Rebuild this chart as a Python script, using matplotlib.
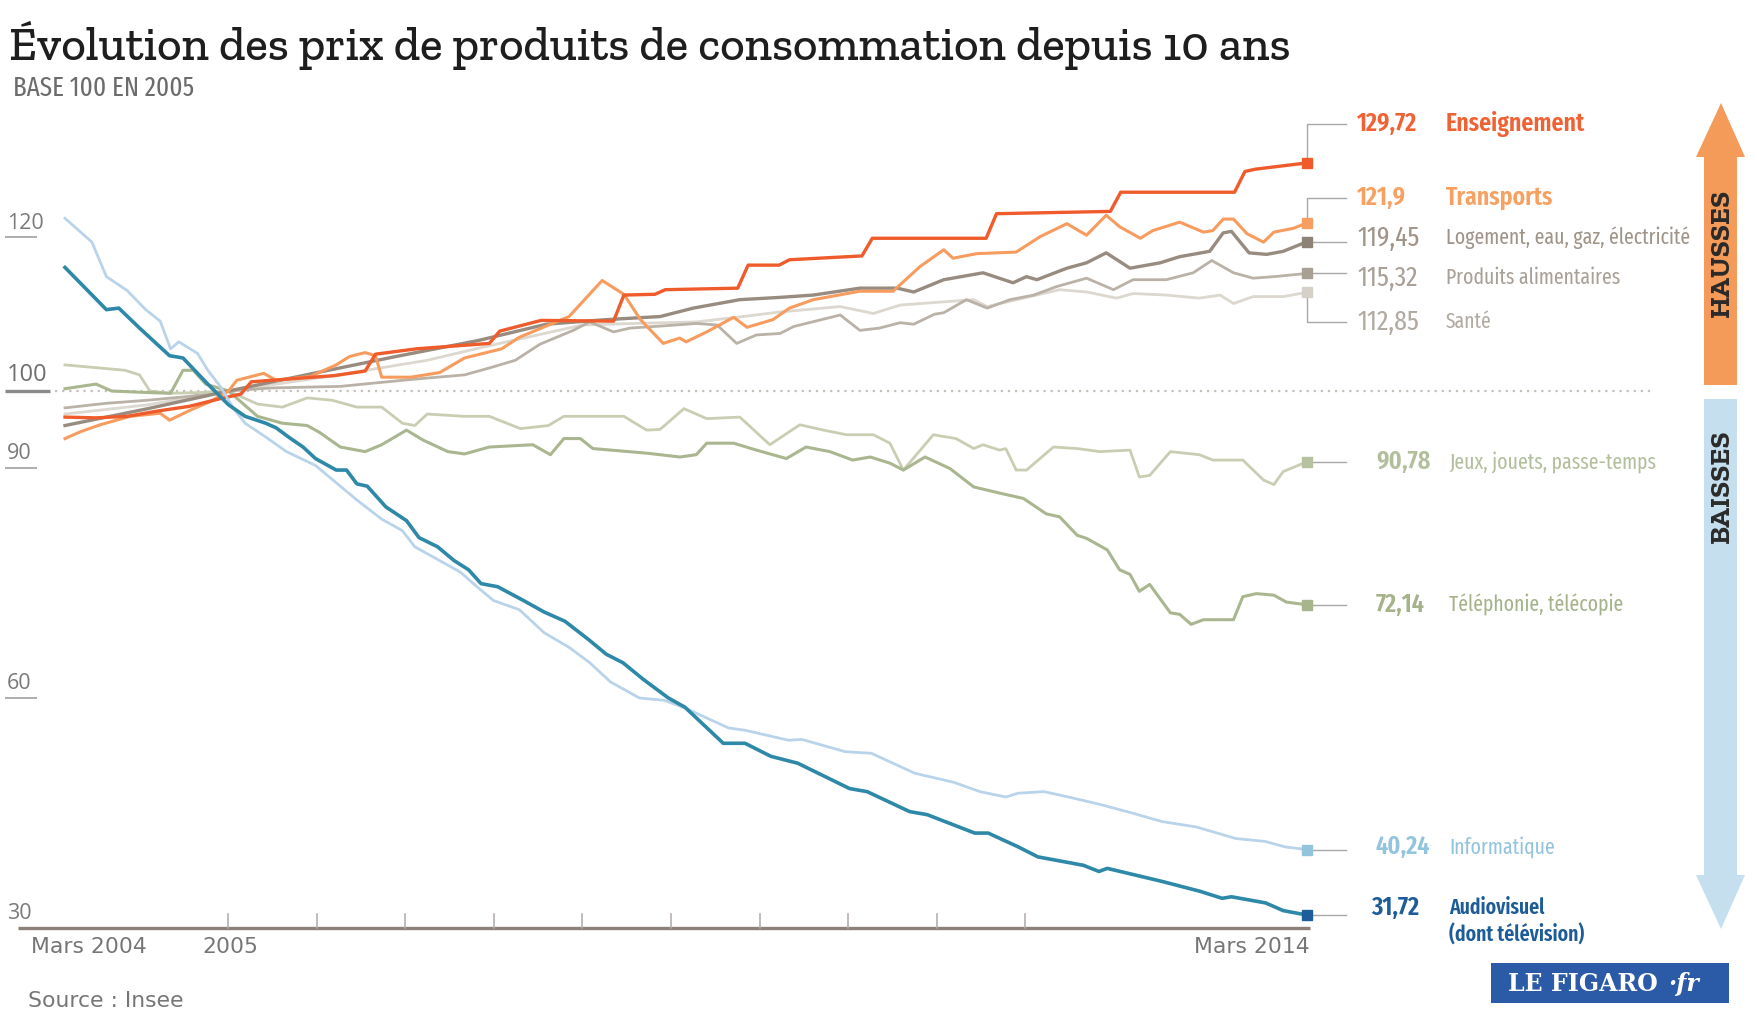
import matplotlib
matplotlib.use('Agg')
import matplotlib.pyplot as plt
from matplotlib.patches import Polygon, Rectangle
from matplotlib import font_manager

# x = months since March 2004 (0) to March 2014 (120), y = index base 100 in 2005
ens_m = [0, 3, 6, 9, 12, 15, 17, 18, 22, 26, 29, 30, 34, 38, 41, 42, 46, 53, 54, 57, 58, 65, 66, 69, 70,
         77, 78, 89, 90, 101, 102, 113, 114, 115, 120]
ens_v = [96.6, 96.5, 96.7, 97.4, 98.0, 99.0, 99.6, 101.2, 101.6, 102.0, 102.6, 104.8, 105.5, 105.9, 106.2,
         107.8, 109.2, 109.1, 112.5, 112.6, 113.2, 113.4, 116.4, 116.4, 117.1, 117.6, 119.9, 119.9, 123.1,
         123.4, 125.9, 125.9, 128.6, 128.9, 129.72]

trans_m = [0, 1.5, 3.4, 6.3, 9.2, 10.1, 12.1, 14, 15.8, 16.6, 19.2, 20.4, 23.7, 26.2, 27.5, 29, 30, 30.6,
           33.4, 36.2, 38.6, 42.2, 43.9, 48.7, 51.9, 54, 55.6, 57.8, 59.4, 60, 62, 64.6, 65.9, 68.4, 70,
           72.3, 76.8, 80, 82.6, 84.9, 85.8, 88.1, 91.9, 94.2, 96.8, 98.7, 100.6, 101.9, 103.9, 105.1,
           107.7, 110, 110.9, 111.9, 112.9, 114.2, 115.8, 116.8, 118.7, 120]
trans_v = [93.8, 94.7, 95.6, 96.7, 97.1, 96.2, 97.5, 98.6, 100.0, 101.4, 102.3, 101.4, 101.9, 103.4, 104.5,
           105.0, 104.6, 101.8, 101.8, 102.4, 104.3, 105.5, 107.0, 109.7, 114.4, 112.6, 109.3, 106.2, 106.9,
           106.4, 107.7, 109.6, 108.3, 109.3, 110.8, 111.9, 113.0, 113.0, 116.2, 118.4, 117.3, 117.9, 118.1,
           120.1, 121.8, 120.3, 122.9, 121.4, 119.9, 120.9, 122.0, 120.7, 120.9, 122.4, 122.4, 120.5, 119.4,
           120.7, 121.2, 121.9]

log_m = [0, 8, 15.8, 24, 32, 40, 46.5, 52.3, 57.5, 60.7, 65.2, 69.1, 72.3, 76.8, 80.4, 82, 84.9, 88.7,
         91.6, 92.9, 93.9, 96.8, 98.7, 100.6, 102.9, 105.8, 107.7, 110.6, 111.9, 112.7, 114.4, 116.1, 117.7, 120]
log_v = [95.5, 97.7, 100.0, 102.3, 104.5, 106.6, 108.7, 109.3, 109.7, 110.8, 111.9, 112.2, 112.5, 113.4,
         113.4, 112.9, 114.5, 115.4, 114.1, 114.9, 114.5, 116.0, 116.7, 118.0, 116.0, 116.7, 117.5, 118.2,
         120.6, 120.8, 118.0, 117.8, 118.2, 119.45]

prod_m = [0, 4, 8, 12, 15.8, 20, 26.6, 33.4, 38.6, 41, 43.5, 45.9, 49.1, 50.7, 53, 54.6, 58, 61, 63, 64.9,
          66.8, 69.1, 70.4, 74.9, 76.8, 78.7, 80.7, 82, 84, 84.9, 87.1, 89.1, 91.3, 93.6, 95.8, 98.7, 101.3,
          103.2, 106.4, 109, 110.8, 112.9, 114.8, 116.8, 120]
prod_v = [97.8, 98.4, 98.8, 99.3, 100.0, 100.4, 100.6, 101.5, 102.1, 103.0, 104.0, 106.1, 107.9, 109.0,
          107.7, 108.2, 108.5, 108.8, 108.6, 106.2, 107.3, 107.5, 108.4, 109.9, 107.9, 108.2, 108.9, 108.7,
          110.0, 110.2, 111.9, 110.8, 111.9, 112.5, 113.6, 114.7, 113.2, 114.5, 114.5, 115.4, 117.0, 115.4,
          114.7, 114.9, 115.32]

sante_m = [0, 8, 15.8, 25, 35, 40, 50, 55, 61, 65.5, 69.1, 74.9, 78.1, 80.7, 87.8, 89.1, 96.1, 98.7, 101.6,
           103.2, 106.4, 109.6, 111.6, 112.9, 114.8, 117.7, 120]
sante_v = [97.0, 98.2, 100.0, 101.8, 104.0, 105.6, 108.6, 108.8, 109.0, 109.7, 110.3, 111.0, 110.1, 111.2,
           111.9, 111.0, 113.2, 112.9, 112.1, 112.7, 112.5, 112.1, 112.5, 111.4, 112.3, 112.3, 112.85]

jeux_m = [0, 5.8, 7.2, 8.2, 10.2, 13, 15.8, 18.6, 21, 23.4, 25.8, 28.2, 30.6, 32.6, 33.8, 35, 38.6, 41, 44,
          46.7, 48.2, 54, 56.2, 57.5, 59.8, 62, 65.2, 68.1, 71, 73.3, 75.5, 78.1, 79.7, 81, 83.9, 86.1, 87.8,
          88.7, 90.3, 90.9, 91.9, 92.9, 95.5, 97.8, 100, 102.9, 103.8, 104.8, 106.8, 109.6, 110.9, 113.8,
          115.8, 116.8, 117.7, 120]
jeux_v = [103.4, 102.7, 102.1, 100.0, 99.7, 99.8, 100.0, 98.3, 97.9, 99.1, 98.8, 97.9, 97.9, 95.8, 95.5,
          97.0, 96.7, 96.7, 95.1, 95.5, 96.7, 96.7, 94.9, 95.0, 97.7, 96.4, 96.6, 93.0, 95.6, 94.9, 94.3,
          94.3, 93.2, 89.7, 94.3, 93.8, 92.5, 93.0, 92.3, 92.5, 89.7, 89.7, 92.7, 92.5, 92.1, 92.3, 88.8,
          89.0, 92.1, 91.7, 91.0, 91.0, 88.4, 87.8, 89.5, 90.78]

tel_m = [0, 3, 4.5, 8, 10.2, 11.4, 12.4, 13.6, 15.8, 18.6, 21, 23.4, 24.6, 26.6, 29, 30.6, 33, 34.6, 37,
         38.6, 41, 45.2, 46.9, 48.2, 49.8, 51, 56.2, 59.4, 61, 62, 64.6, 66.8, 69.7, 71.6, 73.9, 76.1, 77.8,
         79.7, 81, 83.1, 85.5, 87.8, 90.3, 92.6, 94.8, 96.1, 97.8, 98.7, 100.7, 101.9, 102.9, 103.8, 104.8,
         106.8, 107.7, 108.8, 110, 112.9, 113.8, 115.1, 116.8, 118, 120]
tel_v = [100.3, 100.9, 100.0, 99.8, 99.7, 102.7, 102.7, 100.9, 100.0, 96.7, 95.8, 95.5, 94.6, 92.7, 92.1,
         93.0, 94.9, 93.6, 92.1, 91.8, 92.7, 93.0, 91.7, 93.8, 93.8, 92.5, 91.9, 91.4, 91.7, 93.2, 93.2,
         92.3, 91.2, 92.7, 92.1, 91.0, 91.4, 90.6, 89.7, 91.4, 89.9, 87.5, 86.7, 86.0, 84.0, 83.6, 81.2,
         80.8, 79.3, 76.7, 76.1, 73.9, 74.8, 71.1, 70.9, 69.6, 70.2, 70.2, 73.2, 73.6, 73.4, 72.5, 72.14]

info_m = [0, 2.6, 4, 6, 7.8, 9.2, 10.2, 11, 12.8, 13.8, 15, 16.2, 17.4, 19.4, 21.4, 24.2, 26.6, 28.2, 30.6,
          32.6, 33.8, 36.2, 38.2, 39.8, 41.4, 43.9, 46.3, 48.7, 50.7, 52.7, 55.5, 57.9, 59.9, 64.1, 65.7,
          69.9, 71.2, 75.4, 77.9, 82.1, 85.9, 88.4, 90.9, 92.1, 94.6, 97.6, 100.1, 102.6, 106, 109.3, 113.1,
          116, 117.9, 120]
info_v = [122.5, 119.4, 114.9, 113.1, 110.6, 109.1, 105.5, 106.4, 104.9, 102.7, 100.6, 97.9, 95.8, 94.0,
          92.1, 90.3, 87.6, 85.8, 83.3, 81.8, 79.7, 77.9, 76.4, 74.5, 72.7, 71.5, 68.5, 66.6, 64.6, 62.1,
          60.0, 59.7, 58.7, 56.1, 55.8, 54.5, 54.6, 53.0, 52.8, 50.2, 49.0, 47.8, 47.1, 47.6, 47.8, 46.9,
          46.1, 45.2, 43.9, 43.2, 41.7, 41.3, 40.6, 40.24]

audio_m = [0, 4, 5.2, 7.2, 10.1, 11.4, 13.8, 15.8, 17.4, 19.4, 20.4, 21.6, 23, 24.2, 26.2, 27.2, 28.2, 29.2,
           31, 33, 34.2, 36, 37.6, 39, 40.2, 41.8, 44.3, 46.3, 48.3, 50.6, 52.3, 53.9, 55.9, 58.3, 59.9, 63.6,
           65.7, 68.2, 70.8, 75.8, 77.5, 81.6, 83.3, 87.9, 89.2, 92.1, 94, 98.4, 99.9, 100.7, 106, 109.7,
           111.8, 112.7, 116, 117.7, 120]
audio_v = [116.1, 110.6, 110.8, 108.2, 104.6, 104.3, 100.9, 98.2, 96.7, 95.8, 95.2, 94.0, 92.7, 91.2, 89.7,
           89.7, 87.9, 87.6, 84.9, 83.1, 80.9, 79.7, 77.9, 76.7, 74.9, 74.5, 72.7, 71.2, 70.0, 67.6, 65.7,
           64.6, 62.4, 60.0, 58.8, 54.1, 54.1, 52.4, 51.5, 48.2, 47.8, 45.2, 44.8, 42.4, 42.4, 40.6, 39.3,
           38.2, 37.4, 37.8, 36.1, 34.8, 33.9, 34.1, 33.3, 32.3, 31.72]

y_ticks = [120, 100, 90, 60, 30]

# ---- pixel layout helpers (figure is 1757 x 1032 px, axes covers it all) ----
FIG_W, FIG_H = 1757, 1032
X0_PX, MONTH_PX = 65, 10.35
Y100_PX, UNIT_PX = 391, 7.675


def mx(px):
    return (px - X0_PX) / MONTH_PX


def vy(py):
    return 100 - (py - Y100_PX) / UNIT_PX


available = {f.name for f in font_manager.fontManager.ttflist}


def pick(*fams):
    for f in fams:
        if f in available:
            return f
    return 'DejaVu Sans'


COND = pick('Fira Sans Extra Condensed', 'Barlow Condensed', 'Roboto Condensed', 'Fira Sans Condensed',
            'Asap Condensed', 'Barlow Semi Condensed', 'Archivo Narrow')
SLAB = pick('Roboto Slab', 'Zilla Slab', 'Arvo', 'DejaVu Serif')
PLAIN = pick('DejaVu Sans')

fig = plt.figure(figsize=(FIG_W / 100, FIG_H / 100), dpi=100)
renderer = fig.canvas.get_renderer()


def fit_size(txt, target_px, **kw):
    t = fig.text(0, 0, txt, fontsize=10, **kw)
    w = t.get_window_extent(renderer).width
    t.remove()
    return 10 * target_px / w


LSIZE = min(fit_size('Logement, eau, gaz, électricité', 244, family=COND), 19.5)
BSIZE = min(fit_size('Enseignement', 140, family=COND, fontweight='semibold'), 22)
VSIZE = min(fit_size('119,45', 62, family=COND), 23)
VBSIZE = min(fit_size('90,78', 54, family=COND, fontweight='semibold'), 23)

ax = fig.add_axes([0, 0, 1, 1])
ax.set_xlim(mx(0), mx(FIG_W))
ax.set_ylim(vy(FIG_H), vy(0))
ax.axis('off')

# series: months, values, line colour, width, marker colour, label colour, name, label y(px), bold, connector
series = [
    (sante_m, sante_v, '#dcd7cf', 2.0, '#d6d1c8', '#b2aba2', 'Santé', 322, False, 'down'),
    (prod_m, prod_v, '#bab2a7', 2.0, '#a9a095', '#a9a097', 'Produits alimentaires', 278, False, 'flat'),
    (jeux_m, jeux_v, '#c9ceb3', 2.0, '#b6c19f', '#b3bf9c', 'Jeux, jouets, passe-temps', 462, False, 'flat'),
    (tel_m, tel_v, '#a9b68f', 2.2, '#a7b48c', '#a5b28a', 'Téléphonie, télécopie', 605, False, 'flat'),
    (log_m, log_v, '#988b7f', 2.4, '#8e8276', '#a09488', 'Logement, eau, gaz, électricité', 238, False, 'flat'),
    (trans_m, trans_v, '#f79b5e', 2.2, '#f79f62', '#f7a060', 'Transports', 198, True, 'up'),
    (ens_m, ens_v, '#ef5b2a', 2.4, '#ef5b2a', '#ef6234', 'Enseignement', 124, True, 'up'),
    (info_m, info_v, '#b9d4ea', 2.0, '#93c4dc', '#93c4de', 'Informatique', 847, False, 'flat'),
    (audio_m, audio_v, '#2e88a8', 2.6, '#1d5d99', '#1d5c98', 'Audiovisuel\n(dont télévision)', 908, True, 'flat'),
]

# reference line at 100 and baseline
ax.plot([mx(55), mx(1650)], [100, 100], color='#c4c0bb', lw=1.6, ls=(0, (1, 2.2)), zorder=1)
ax.plot([mx(18), mx(1310)], [30, 30], color='#8c8078', lw=2.4, solid_capstyle='butt', zorder=2)
for k in range(10):
    tx = mx(228 + 88.6 * k)
    ax.plot([tx, tx], [30, 31.8], color='#b0aaa5', lw=1.1, zorder=2)

# y labels with short underlines
for t in y_ticks:
    big = t == 100
    if t != 30:
        ax.plot([mx(5), mx(50 if big else 37)], [t, t], color='#8a8a8a' if big else '#a0a0a0',
                lw=2.4 if big else 1.2, solid_capstyle='butt', clip_on=False)
    ax.text(mx(7), t + (0.5 if t != 30 else 0.6), str(t), ha='left', va='bottom',
            fontsize=17 if big else 15.5, color='#6f6f6f' if big else '#7a7a7a', family='Open Sans')

for m, v, lc, lw, mc, tc, name, ly, bold, conn in series:
    ax.plot(m, v, color=lc, lw=lw, solid_joinstyle='round', zorder=3)
    ax.plot(m[-1], v[-1], marker='s', ms=6.5, color=mc, zorder=4)
    lv = vy(ly)
    xe = m[-1]
    gc = '#a8a8a8'
    if conn == 'flat':
        ax.plot([xe, mx(1346)], [v[-1], v[-1]], color=gc, lw=1.0, zorder=2)
    else:
        ax.plot([xe, xe, mx(1346)], [v[-1], lv, lv], color=gc, lw=1.0, zorder=2)
    upper = ly < 400
    vx = mx(1357) if upper else mx(1376 if not bold else 1371)
    nx = mx(1446) if upper else mx(1449)
    val_txt = str(v[-1]).replace('.', ',')
    vbold = bold or not upper
    ax.text(vx, lv, val_txt, ha='left', va='center', fontsize=VBSIZE if vbold else VSIZE, color=tc,
            fontweight='semibold' if vbold else 'normal', family=COND)
    lines = name.split('\n')
    nsize = BSIZE if (bold and upper) else LSIZE
    for i, part in enumerate(lines):
        ax.text(nx, vy(ly + 27 * i), part, ha='left', va='center', fontsize=nsize, color=tc,
                fontweight='semibold' if bold else 'normal', family=COND)

# x labels and source
AX_SIZE = fit_size('Mars 2004', 115, family=PLAIN)
ax.text(mx(31), vy(947), 'Mars 2004', ha='left', va='center', fontsize=AX_SIZE, color='#767676')
ax.text(mx(230), vy(947), '2005', ha='center', va='center', fontsize=AX_SIZE, color='#767676')
ax.text(mx(1310), vy(947), 'Mars 2014', ha='right', va='center', fontsize=AX_SIZE, color='#767676')
ax.text(mx(28), vy(1001), 'Source : Insee', ha='left', va='center', fontsize=AX_SIZE, color='#767676')

# title
title = 'Évolution des prix de produits de consommation depuis 10 ans'
fig.text(9 / FIG_W, 1 - 45 / FIG_H, title, ha='left', va='center',
         fontsize=fit_size(title, 1290, family=SLAB, fontweight='medium'), fontweight='medium',
         color='#1e1e1e', family=SLAB)
fig.text(13 / FIG_W, 1 - 88 / FIG_H, 'BASE 100 EN 2005', ha='left', va='center',
         fontsize=fit_size('BASE 100 EN 2005', 180, family=COND), color='#6c6c6c', family=COND)

# decorations in pixel space: arrows and logo
deco = fig.add_axes([0, 0, 1, 1], facecolor='none')
deco.set_xlim(0, FIG_W)
deco.set_ylim(FIG_H, 0)
deco.axis('off')

cx = 1721
deco.add_patch(Polygon([(cx, 103), (cx - 25, 157), (cx - 17, 157), (cx - 17, 385), (cx + 16, 385),
                        (cx + 16, 157), (cx + 24, 157)], closed=True, color='#f59b5a', lw=0))
deco.add_patch(Polygon([(cx - 17, 399), (cx + 16, 399), (cx + 16, 875), (cx + 24, 875), (cx, 929),
                        (cx - 25, 875), (cx - 17, 875)], closed=True, color='#c6dfee', lw=0))
HS = fit_size('HAUSSES', 128, family=SLAB, fontweight='bold')
deco.text(cx + 1, 253, 'HAUSSES', rotation=90, ha='center', va='center', fontsize=HS, fontweight='bold',
          color='#2a2a2a', family=SLAB)
deco.text(cx + 1, 486, 'BAISSES', rotation=90, ha='center', va='center', fontsize=HS, fontweight='bold',
          color='#2a2a2a', family=SLAB)

deco.add_patch(Rectangle((1491, 963), 238, 40, color='#2b5aa6', lw=0))
deco.text(1508, 984, 'LE FIGARO', ha='left', va='center', fontsize=17, fontweight='bold',
          color='white', family='DejaVu Serif')
deco.text(1668, 984, '·fr', ha='left', va='center', fontsize=17, fontstyle='italic', fontweight='bold',
          color='white', family='DejaVu Serif')

fig.savefig('out.png', dpi=100)
